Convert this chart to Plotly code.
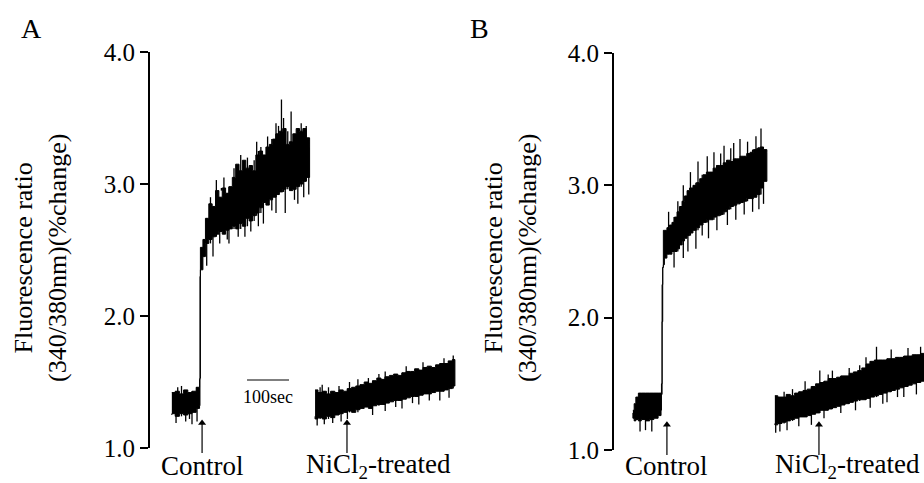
import plotly.graph_objects as go

# ---------------- DATA ----------------
# Panel A, control recording: time (s) and lower / upper envelope of the noisy ratio trace
a_ctrl_t  = [52, 60, 70, 80, 90, 100, 110, 118, 119, 120, 126, 132, 140, 148, 156, 164, 172, 180, 188, 196,
             204, 212, 220, 228, 236, 244, 252, 260, 268, 276, 284, 292, 300, 308, 316, 324, 332, 340,
             348, 356, 364, 372, 380]
a_ctrl_lo = [1.25, 1.26, 1.24, 1.26, 1.25, 1.26, 1.27, 1.30, 1.32, 2.30, 2.35, 2.45, 2.55, 2.58, 2.60, 2.62,
             2.64, 2.62, 2.65, 2.66, 2.68, 2.66, 2.70, 2.68, 2.74, 2.72, 2.76, 2.78, 2.82, 2.86, 2.84,
             2.88, 2.90, 2.92, 2.94, 2.96, 2.98, 2.95, 2.96, 2.98, 3.00, 3.02, 3.05]
a_ctrl_hi = [1.42, 1.43, 1.41, 1.44, 1.42, 1.43, 1.46, 1.52, 1.53, 2.52, 2.58, 2.74, 2.85, 2.83, 2.95, 2.90,
             2.97, 2.93, 2.98, 3.05, 3.15, 3.10, 3.18, 3.12, 3.14, 3.10, 3.22, 3.25, 3.22, 3.28, 3.30,
             3.34, 3.38, 3.40, 3.42, 3.30, 3.32, 3.38, 3.42, 3.40, 3.42, 3.35, 3.28]
a_ctrl_spike_t = [62, 66, 75, 85, 94, 100, 112, 135, 144, 150, 158, 166, 170, 176, 184, 188, 200, 210, 216,
                  226, 232, 240, 248, 254, 258, 264, 270, 280, 290, 300, 300, 306, 313, 318, 322, 328,
                  336, 344, 352, 360, 366, 372, 378]
a_ctrl_spike_v = [1.19, 1.46, 1.47, 1.20, 1.22, 1.18, 1.20, 2.38, 2.90, 2.45, 3.03, 2.55, 2.95, 3.05, 2.58,
                  2.55, 3.12, 2.60, 3.22, 2.60, 3.20, 2.64, 3.18, 3.32, 2.68, 3.28, 2.70, 3.36, 2.80, 3.46,
                  2.78, 3.44, 3.64, 3.50, 2.78, 3.40, 3.55, 2.88, 2.85, 3.46, 2.90, 3.44, 2.92]

# Panel A, NiCl2-treated recording
a_ni_t  = [393, 400, 410, 420, 430, 440, 450, 460, 470, 480, 490, 500, 510, 520, 530, 540, 550, 560, 570,
           580, 590, 600, 610, 620, 630, 640, 650, 660, 670, 680, 690, 700, 710, 720, 726]
a_ni_lo = [1.24, 1.22, 1.23, 1.22, 1.24, 1.23, 1.25, 1.26, 1.27, 1.28, 1.27, 1.29, 1.30, 1.31, 1.30, 1.32,
           1.33, 1.33, 1.34, 1.35, 1.36, 1.36, 1.37, 1.38, 1.39, 1.39, 1.40, 1.41, 1.41, 1.42, 1.43, 1.43,
           1.44, 1.45, 1.47]
a_ni_hi = [1.44, 1.42, 1.43, 1.41, 1.43, 1.42, 1.44, 1.43, 1.45, 1.46, 1.47, 1.48, 1.50, 1.49, 1.51, 1.53,
           1.52, 1.54, 1.55, 1.56, 1.55, 1.57, 1.58, 1.58, 1.60, 1.59, 1.61, 1.62, 1.61, 1.63, 1.64, 1.64,
           1.66, 1.67, 1.66]
a_ni_spike_t = [398, 405, 410, 415, 425, 435, 450, 455, 470, 475, 495, 520, 530, 545, 560, 560, 585, 600,
                610, 625, 640, 650, 665, 690, 700, 712, 722]
a_ni_spike_v = [1.17, 1.46, 1.48, 1.18, 1.46, 1.19, 1.47, 1.20, 1.22, 1.50, 1.52, 1.53, 1.25, 1.56, 1.28,
                1.58, 1.31, 1.30, 1.62, 1.34, 1.33, 1.65, 1.36, 1.36, 1.68, 1.38, 1.70]

# Panel B, control recording
b_ctrl_t  = [45, 48, 52, 58, 65, 75, 85, 95, 105, 112, 113, 114.5, 116, 117.5, 120, 126, 132, 138, 144, 150,
             156, 162, 168, 174, 180, 188, 196, 204, 212, 220, 228, 236, 244, 252, 260, 268, 276, 284,
             292, 300, 308, 316, 324, 332, 340, 348, 356, 364]
b_ctrl_lo = [1.28, 1.24, 1.22, 1.23, 1.22, 1.23, 1.22, 1.23, 1.24, 1.26, 1.30, 1.50, 2.25, 2.38, 2.40, 2.45,
             2.48, 2.48, 2.50, 2.50, 2.52, 2.55, 2.58, 2.60, 2.62, 2.64, 2.66, 2.68, 2.70, 2.72, 2.74, 2.74,
             2.76, 2.77, 2.78, 2.80, 2.82, 2.84, 2.85, 2.86, 2.87, 2.88, 2.90, 2.90, 2.91, 2.93, 2.98, 3.03]
b_ctrl_hi = [1.30, 1.35, 1.40, 1.43, 1.43, 1.43, 1.43, 1.43, 1.43, 1.43, 1.42, 1.97, 2.38, 2.66, 2.66, 2.68,
             2.70, 2.72, 2.76, 2.80, 2.84, 2.88, 2.92, 2.96, 2.98, 3.00, 3.02, 3.05, 3.08, 3.10, 3.10, 3.13,
             3.15, 3.15, 3.17, 3.19, 3.18, 3.20, 3.20, 3.22, 3.22, 3.24, 3.25, 3.27, 3.28, 3.29, 3.27, 3.25]
b_ctrl_spike_t = [62, 75, 90, 130, 143, 152, 165, 165, 176, 182, 195, 200, 210, 222, 225, 238, 245, 254,
                  262, 270, 278, 285, 290, 300, 310, 318, 330, 338, 345, 350, 356]
b_ctrl_spike_v = [1.14, 1.15, 1.14, 2.80, 2.38, 2.88, 3.00, 2.45, 2.50, 3.10, 2.52, 3.18, 2.62, 3.22, 2.60,
                  3.25, 2.66, 3.24, 3.30, 2.70, 3.28, 3.32, 2.74, 3.35, 2.78, 3.33, 2.80, 3.37, 2.82, 3.43,
                  2.86]

# Panel B, NiCl2-treated recording
b_ni_t  = [383, 390, 400, 410, 420, 430, 440, 450, 460, 470, 480, 490, 500, 510, 520, 530, 540, 550, 560,
           570, 580, 590, 600, 610, 620, 630, 640, 650, 660, 670, 680, 690, 700, 710, 720, 730, 740]
b_ni_lo = [1.20, 1.19, 1.20, 1.21, 1.22, 1.23, 1.24, 1.25, 1.25, 1.26, 1.27, 1.28, 1.30, 1.30, 1.31, 1.32,
           1.33, 1.34, 1.35, 1.36, 1.37, 1.38, 1.38, 1.39, 1.40, 1.41, 1.42, 1.43, 1.44, 1.45, 1.46, 1.47,
           1.48, 1.49, 1.50, 1.51, 1.52]
b_ni_hi = [1.41, 1.40, 1.40, 1.42, 1.41, 1.43, 1.44, 1.45, 1.46, 1.48, 1.50, 1.51, 1.52, 1.54, 1.54, 1.55,
           1.56, 1.56, 1.58, 1.59, 1.60, 1.62, 1.65, 1.67, 1.68, 1.68, 1.68, 1.69, 1.69, 1.70, 1.70, 1.71,
           1.71, 1.72, 1.72, 1.73, 1.74]
b_ni_spike_t = [385, 395, 405, 412, 425, 440, 455, 470, 490, 500, 510, 520, 540, 560, 575, 585, 600, 610,
                625, 640, 650, 660, 675, 690, 700, 720, 730]
b_ni_spike_v = [1.13, 1.14, 1.44, 1.15, 1.46, 1.18, 1.52, 1.19, 1.60, 1.24, 1.57, 1.60, 1.28, 1.62, 1.30,
                1.64, 1.70, 1.32, 1.78, 1.35, 1.36, 1.76, 1.40, 1.40, 1.77, 1.42, 1.78]

# Stimulus markers (s) and the scale bar (s)
a_arrow_t = [124, 469]
b_arrow_t = [126, 488]
a_label_t = [124, 545]
b_label_t = [126, 557]
scalebar_t = [231, 331]
scalebar_v = 1.515
arrow_tip_v = 1.19

tick_vals = [1.0, 2.0, 3.0, 4.0]
tick_text = ["1.0", "2.0", "3.0", "4.0"]
y_title = "Fluorescence ratio<br>(340/380nm)(%change)"
labels = ["Control", "NiCl<sub>2</sub>-treated"]

FONT = "Liberation Serif, Times New Roman, serif"
W, H = 924, 483

fig = go.Figure()


def add_band(t, lo, hi, xa, ya):
    fig.add_trace(go.Scatter(
        x=list(t) + list(t)[::-1], y=list(hi) + list(lo)[::-1],
        mode="lines", fill="toself", fillcolor="black", line_shape="hv",
        line=dict(color="black", width=1), xaxis=xa, yaxis=ya,
        hoverinfo="skip", showlegend=False))


def add_spikes(t, lo, hi, st, sv, xa, ya):
    xs, ys = [], []
    for ts, v in zip(st, sv):
        i = min(range(len(t)), key=lambda k: abs(t[k] - ts))
        base = lo[i] if v > hi[i] else hi[i]
        xs += [ts, ts, None]
        ys += [base, v, None]
    fig.add_trace(go.Scatter(x=xs, y=ys, mode="lines", line=dict(color="black", width=1.3),
                             xaxis=xa, yaxis=ya, hoverinfo="skip", showlegend=False))


add_band(a_ctrl_t, a_ctrl_lo, a_ctrl_hi, "x", "y")
add_spikes(a_ctrl_t, a_ctrl_lo, a_ctrl_hi, a_ctrl_spike_t, a_ctrl_spike_v, "x", "y")
add_band(a_ni_t, a_ni_lo, a_ni_hi, "x", "y")
add_spikes(a_ni_t, a_ni_lo, a_ni_hi, a_ni_spike_t, a_ni_spike_v, "x", "y")
add_band(b_ctrl_t, b_ctrl_lo, b_ctrl_hi, "x2", "y2")
add_spikes(b_ctrl_t, b_ctrl_lo, b_ctrl_hi, b_ctrl_spike_t, b_ctrl_spike_v, "x2", "y2")
add_band(b_ni_t, b_ni_lo, b_ni_hi, "x2", "y2")
add_spikes(b_ni_t, b_ni_lo, b_ni_hi, b_ni_spike_t, b_ni_spike_v, "x2", "y2")

# scale bar
fig.add_trace(go.Scatter(x=scalebar_t, y=[scalebar_v, scalebar_v], mode="lines",
                         line=dict(color="black", width=1.2), xaxis="x", yaxis="y",
                         hoverinfo="skip", showlegend=False))

# axis placement (pixels -> paper)
ax_a_left, ax_b_left, plot_w = 150, 614, 310
ya_top, ya_bot = 52, 448
yb_top, yb_bot = 53, 450
x_range = [0, plot_w / 0.42]
dom_a = [1 - ya_bot / H, 1 - ya_top / H]
dom_b = [1 - yb_bot / H, 1 - yb_top / H]

# stimulus arrows: filled triangle head (marker) + thin shaft running just below the axis end
shapes = []
for xr, ya, dom, arrows in (("x", "y", dom_a, a_arrow_t), ("x2", "y2", dom_b, b_arrow_t)):
    fig.add_trace(go.Scatter(x=arrows, y=[arrow_tip_v] * len(arrows), mode="markers",
                             marker=dict(symbol="triangle-up", size=7, color="black"),
                             xaxis=xr, yaxis=ya, cliponaxis=False, hoverinfo="skip", showlegend=False))
    tip_paper = dom[0] + (arrow_tip_v - 1) / 3 * (dom[1] - dom[0])
    for at in arrows:
        shapes.append(dict(type="line", xref=xr, yref="paper", x0=at, x1=at,
                           y0=dom[0] - 5 / H, y1=tip_paper, line=dict(color="black", width=1.2)))

axis_y = dict(range=[1, 4], tickvals=tick_vals, ticktext=tick_text, ticks="outside", ticklen=8,
              tickwidth=2, tickcolor="black", showline=True, linecolor="black", linewidth=2,
              showgrid=False, zeroline=False, automargin=False,
              tickfont=dict(family=FONT, size=25, color="black"))
fig.update_layout(
    template="none",
    width=W, height=H, margin=dict(l=0, r=0, t=0, b=0, pad=0), autosize=False,
    paper_bgcolor="white", plot_bgcolor="white", showlegend=False,
    xaxis=dict(domain=[ax_a_left / W, (ax_a_left + plot_w) / W], range=x_range, visible=False,
               automargin=False),
    xaxis2=dict(domain=[ax_b_left / W, 1.0], range=x_range, visible=False, automargin=False),
    yaxis=dict(domain=dom_a, anchor="x", **axis_y),
    yaxis2=dict(domain=dom_b, anchor="x2", **axis_y),
    shapes=shapes,
)

ann = []
for letter, px in (("A", 31), ("B", 479)):
    ann.append(dict(text=letter, x=px / W, y=1 - 29 / H, xref="paper", yref="paper", showarrow=False,
                    font=dict(family=FONT, size=28, color="black"), xanchor="center", yanchor="middle"))
for px in (40, 510):
    ann.append(dict(text=y_title, x=px / W, y=1 - 258 / H, xref="paper", yref="paper", showarrow=False,
                    textangle=-90, font=dict(family=FONT, size=26, color="black"),
                    xanchor="center", yanchor="middle"))
for xr, labs in (("x", a_label_t), ("x2", b_label_t)):
    for lt, lab in zip(labs, labels):
        ann.append(dict(text=lab, x=lt, y=1 - 466 / H, xref=xr, yref="paper", showarrow=False,
                        font=dict(family=FONT, size=27, color="black"), xanchor="center", yanchor="middle"))
ann.append(dict(text="100sec", x=sum(scalebar_t) / 2, y=1.39, xref="x", yref="y", showarrow=False,
                font=dict(family=FONT, size=18, color="black"), xanchor="center", yanchor="middle"))
fig.update_layout(annotations=ann)

fig.write_html("out.html", config={"displayModeBar": False},
               post_script="document.body.style.margin='0px';")
